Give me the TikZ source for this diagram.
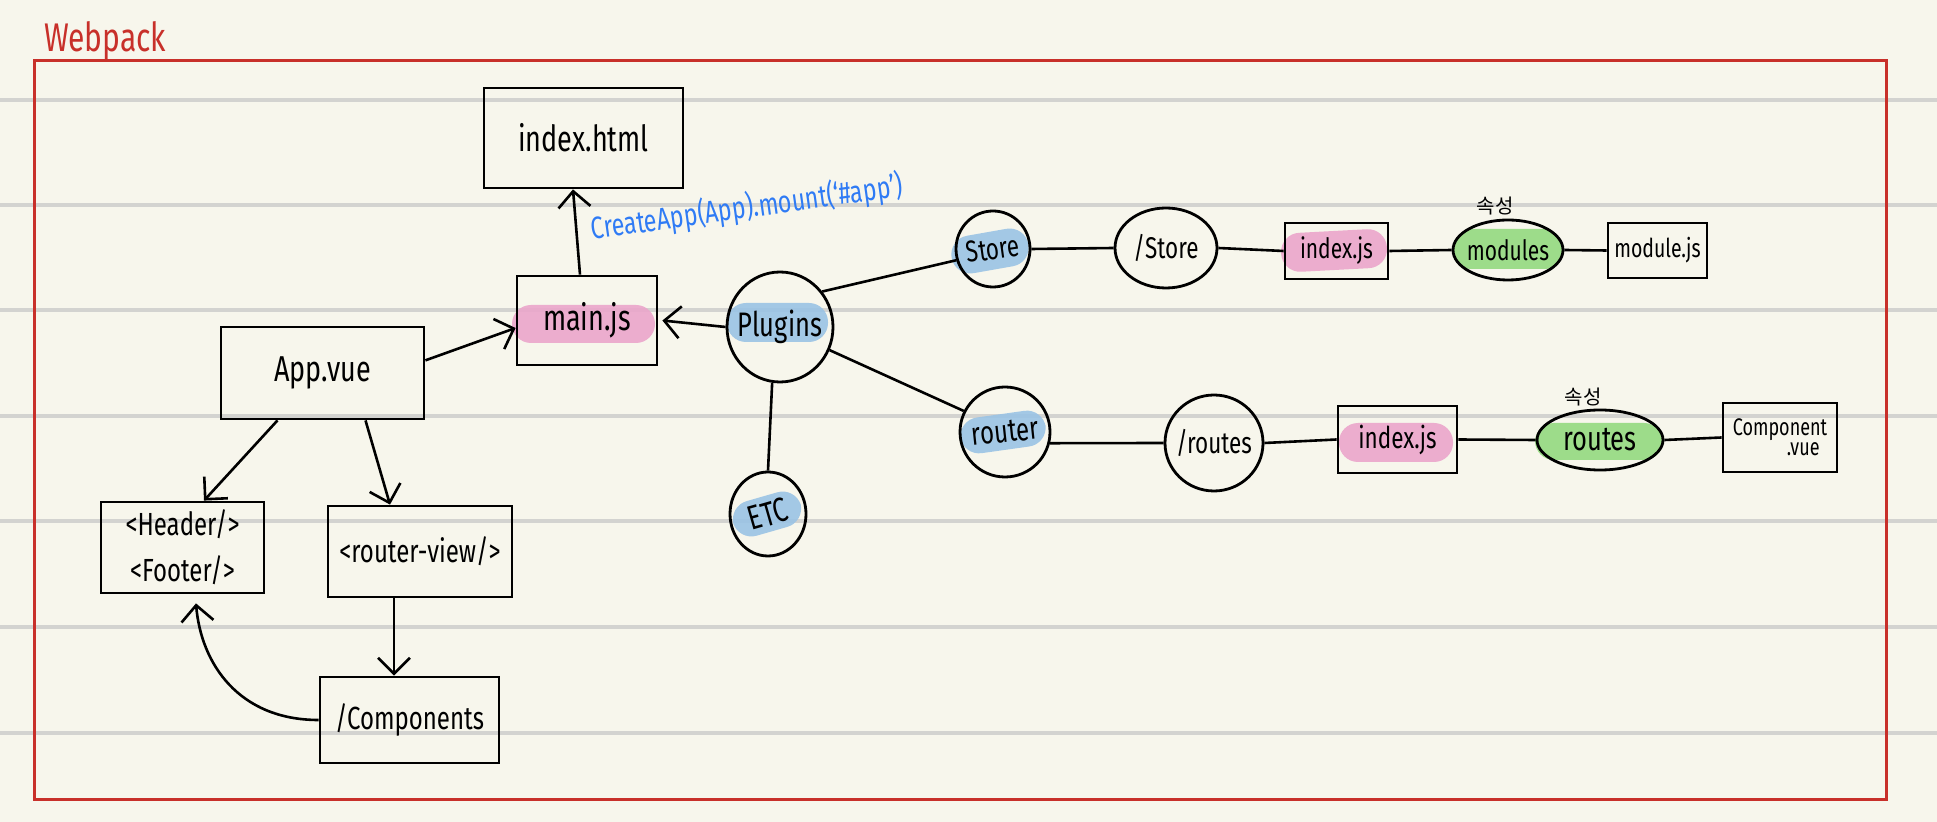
\documentclass[tikz,border=0pt]{standalone}
\usepackage{fontspec}
\usepackage{graphicx}
\setmainfont{Fira Sans}[FakeStretch=0.75]
\newfontfamily\krfont{Noto Sans CJK KR}
\usetikzlibrary{arrows.meta,shapes.geometric,calc}
\definecolor{bg}{HTML}{F7F6EC}
\definecolor{rulegray}{HTML}{D3D3D0}
\definecolor{wred}{HTML}{C8302A}
\definecolor{hpink}{HTML}{EBA6CB}
\definecolor{hblue}{HTML}{9AC3E5}
\definecolor{hgreen}{HTML}{94DA80}
\definecolor{tblue}{HTML}{2F7BF5}
\newcommand{\fs}[1]{\fontsize{#1}{#1}\selectfont}
\newcommand{\zw}[1]{\makebox[0pt]{#1}}
\begin{document}
\begin{tikzpicture}[x=0.5pt,y=-0.5pt,
  box/.style={draw, line width=1.4pt, rectangle, inner sep=0pt},
  circ/.style={draw, line width=1.4pt, ellipse, inner sep=0pt},
  conn/.style={line width=1.3pt},
  arr/.style={conn, -{Straight Barb[length=8pt,width=16pt]}},
  hl/.style={rounded corners=9.5pt, fill opacity=0.9},
]
\useasboundingbox (0,0) rectangle (1937,822);
\fill[bg] (0,0) rectangle (1937,822);
\foreach \yy in {100,205,310,416,521,627,733}
  \draw[rulegray, line width=1.7pt] (0,\yy) -- (1937,\yy);
% frame
\draw[wred, line width=1.5pt] (34,61) rectangle (1886,799);
\node[wred, anchor=base west, font=\fs{20}] (title) at (37,52) {Webpack};

% highlights
\fill[hpink, hl] (512,305) rectangle (655,343);
\fill[hblue, hl] (727,303) rectangle (828,342);
\fill[hblue, hl, rotate around={10:(990,251)}] (951,232) rectangle (1029,270);
\fill[hblue, hl, rotate around={8:(1003,432)}] (960,414) rectangle (1046,450);
\fill[hblue, hl, rotate around={16:(767,514)}] (732,496) rectangle (802,532);
\fill[hpink, hl, rotate around={3:(1334,250)}] (1281,231) rectangle (1387,270);
\fill[hpink, hl] (1339,423) rectangle (1453,462);
\fill[hgreen, hl] (1535,423) rectangle (1663,460);
\begin{scope}
  \clip (1508,250) ellipse [x radius=27.5pt, y radius=15pt];
  \fill[hgreen, hl] (1452,229) rectangle (1564,269);
\end{scope}

% boxes
\node[box, minimum width=99.5pt, minimum height=50pt, font=\fs{18}] (idx) at (583.5,138) {index.html};
\node[box, minimum width=70pt, minimum height=44.5pt, font=\fs{18}] (main) at (587,320.5) {main.js};
\node[box, minimum width=101.5pt, minimum height=46pt, font=\fs{18}] (app) at (322.5,373) {App.vue};
\node[box, minimum width=81.5pt, minimum height=45.5pt, align=center, font=\fontsize{16}{23}\selectfont] (hdr) at (182.5,547.5) {<Header/>\\<Footer/>};
\node[box, minimum width=92pt, minimum height=45.5pt, font=\fs{16}] (rv) at (420,551.5) {<router-view/>};
\node[box, minimum width=89.5pt, minimum height=43pt, font=\fs{16}] (comp) at (409.5,720) {/Components};
\node[box, minimum width=51.5pt, minimum height=28pt, font=\fs{14}] (sidx) at (1336.5,251) {index.js};
\node[box, minimum width=49.5pt, minimum height=27.5pt, font=\fs{13}] (modjs) at (1657.5,250.5) {module.js};
\node[box, minimum width=59.5pt, minimum height=33.5pt, font=\fs{15}] (ridx) at (1397.5,439.5) {index.js};
\node[box, minimum width=57pt, minimum height=34.5pt, align=left, font=\fontsize{12}{8.5}\selectfont] (cv) at (1780,437.5) {Component\\\hspace*{27pt}.vue};

% ellipses
\node[circ, minimum width=53pt, minimum height=55pt, font=\fs{17}] (plug) at (780,327) {\zw{Plugins}};
\node[circ, minimum width=38pt, minimum height=42pt, font=\fs{17}] (etc) at (768,514) {\zw{\rotatebox[origin=c]{16}{ETC}}};
\node[circ, minimum width=37pt, minimum height=38pt, font=\fs{15}] (store) at (993,249) {\zw{\rotatebox[origin=c]{8}{Store}}};
\node[circ, minimum width=51pt, minimum height=40pt, font=\fs{15}] (sstore) at (1166,248) {\zw{/Store}};
\node[circ, minimum width=55pt, minimum height=30pt, font=\fs{14}] (mods) at (1508,250) {\zw{modules}};
\node[circ, minimum width=45pt, minimum height=45pt, font=\fs{16}] (router) at (1005,432) {\zw{\rotatebox[origin=c]{6}{router}}};
\node[circ, minimum width=49pt, minimum height=48pt, font=\fs{15}] (routesd) at (1214,443) {\zw{/routes}};
\node[circ, minimum width=63pt, minimum height=30pt, font=\fs{17}] (routes) at (1600,440) {\zw{routes}};

% labels
\node[tblue, rotate=8, font=\fs{15.5}] (mount) at (747,208) {CreateApp(App).mount(\textquoteleft\#app\textquoteright)};
\node[font=\krfont\fs{10}] (prop1) at (1495,206) {속성};
\node[font=\krfont\fs{10}] (prop2) at (1583,397) {속성};

% connectors
\draw[arr] ([xshift=-3.5pt]main.north) -- ([xshift=-5.25pt]idx.south);
\draw[arr] (app.7) -- (main.186);
\draw[arr] (plug.west) -- ([xshift=2pt]main.east);
\draw[arr] ([xshift=-22.5pt]app.south) -- ([xshift=10.75pt]hdr.north);
\draw[arr] ([xshift=21.5pt]app.south) -- ([xshift=-15pt]rv.north);
\draw[arr] ([xshift=-13pt]rv.south) -- ([xshift=-7.75pt]comp.north);
\draw[arr] (comp.west) .. controls +(-80,0) and +(5,60) .. ([xshift=6.75pt,yshift=-4.5pt]hdr.south);
\draw[conn] (plug.40) -- (store.197);
\draw[conn] (plug.-25) -- (router.153);
\draw[conn] (plug.262) -- (etc.north);
\draw[conn] (store.east) -- (sstore.west);
\draw[conn] (sstore.east) -- (sidx.west);
\draw[conn] (sidx.east) -- (mods.west);
\draw[conn] (mods.east) -- (modjs.west);
\draw[conn] (router.-14) -- (routesd.west);
\draw[conn] (routesd.east) -- (ridx.west);
\draw[conn] (ridx.east) -- (routes.west);
\draw[conn] (routes.east) -- (cv.west);
\end{tikzpicture}
\end{document}
